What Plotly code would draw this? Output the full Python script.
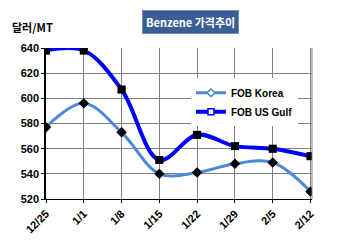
import plotly.graph_objects as go

categories = ["12/25", "1/1", "1/8", "1/15", "1/22", "1/29", "2/5", "2/12"]
fob_korea = [577, 596, 573, 540, 541, 548, 549, 526]
fob_us_gulf = [638, 638, 607, 551, 571, 562, 560, 554]
y_ticks = [520, 540, 560, 580, 600, 620, 640]

x = list(range(len(categories)))
FONT = "Liberation Sans, Arial, sans-serif"
KFONT = "Noto Sans CJK KR, Liberation Sans, sans-serif"

fig = go.Figure()
fig.add_trace(go.Scatter(
    x=x, y=fob_korea, name="FOB Korea", mode="lines+markers",
    line=dict(color="#4a8ad8", width=3, shape="spline", smoothing=1),
    marker=dict(symbol="diamond", size=6, color="white", line=dict(color="#4a8ad8", width=1.5)),
))
fig.add_trace(go.Scatter(
    x=x, y=fob_us_gulf, name="FOB US Gulf", mode="lines+markers",
    line=dict(color="#0000ff", width=4, shape="spline", smoothing=1),
    marker=dict(symbol="square", size=6, color="white", line=dict(color="#0000ff", width=1.5)),
))
fig.add_trace(go.Scatter(
    x=x, y=fob_korea, mode="markers", showlegend=False, hoverinfo="skip",
    marker=dict(symbol="diamond", size=8, color="black"),
))
fig.add_trace(go.Scatter(
    x=x, y=fob_us_gulf, mode="markers", showlegend=False, hoverinfo="skip",
    marker=dict(symbol="square", size=8, color="black"),
))

fig.update_layout(
    width=350, height=246,
    margin=dict(l=46, r=38, t=48, b=47),
    paper_bgcolor="white", plot_bgcolor="white",
    font=dict(family=FONT, size=11, color="black"),
    legend=dict(
        x=0.545, y=0.80, xanchor="left", yanchor="top",
        bgcolor="white", borderwidth=0,
        font=dict(family=FONT, size=10, color="black", weight="bold"),
        tracegroupgap=0, itemwidth=30,
    ),
    xaxis=dict(
        tickvals=x, ticktext=categories, range=[0, 7.04],
        tickangle=-45, showgrid=True, gridcolor="#808080", gridwidth=1,
        showline=True, linecolor="black", linewidth=1, mirror=False,
        zeroline=False, ticks="outside", ticklen=3, tickcolor="black",
        tickfont=dict(family=FONT, size=11, color="black", weight="bold"),
    ),
    yaxis=dict(
        range=[520, 640], tickvals=y_ticks,
        showgrid=True, gridcolor="#808080", gridwidth=1,
        showline=True, linecolor="black", linewidth=1.5,
        zeroline=False, ticks="outside", ticklen=3, tickcolor="black",
        tickfont=dict(family=FONT, size=11, color="black", weight="bold"),
    ),
    shapes=[dict(type="line", xref="paper", yref="paper", x0=1, x1=1, y0=0, y1=1,
                 line=dict(color="#808080", width=1))],
    annotations=[
        dict(text="Benzene 가격추이", xref="paper", yref="paper",
             x=(190 - 46) / 266, y=1 + (48 - 22) / 151, xanchor="center", yanchor="middle",
             showarrow=False, bgcolor="#3b5f95", bordercolor="#7090c0", borderwidth=1,
             borderpad=3, font=dict(family=KFONT, size=11, color="white", weight="bold")),
        dict(text="달러/MT", xref="paper", yref="paper",
             x=-36 / 266, y=1 + (48 - 27) / 151, xanchor="left", yanchor="middle",
             showarrow=False, font=dict(family=KFONT, size=11, color="black", weight="bold")),
    ],
)

fig.write_html("out.html")
